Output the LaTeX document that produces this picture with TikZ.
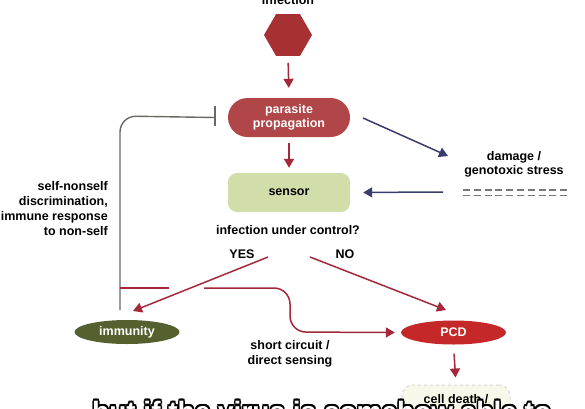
\documentclass[tikz,border=0pt]{standalone}
\usepackage{fontspec}
\setmainfont{Liberation Sans}
\usetikzlibrary{arrows.meta,shapes.geometric}
\definecolor{hexred}{RGB}{166,48,50}
\definecolor{pillred}{RGB}{176,70,72}
\definecolor{arrred}{RGB}{164,40,58}
\definecolor{pcdred}{RGB}{196,40,40}
\definecolor{immgreen}{RGB}{84,96,46}
\definecolor{sensgreen}{RGB}{210,222,170}
\definecolor{navy}{RGB}{58,60,108}
\definecolor{inhgray}{RGB}{105,105,100}
\definecolor{dashgray}{RGB}{120,120,120}
\definecolor{cdfill}{RGB}{248,248,234}
\definecolor{cdborder}{RGB}{215,215,205}
\begin{document}
\begin{tikzpicture}[x=1pt,y=-1pt,
  font=\fontsize{12.5}{15.5}\selectfont\bfseries,
  hexshape/.style={regular polygon, regular polygon sides=6, minimum size=48pt, inner sep=0pt, fill=hexred, draw=none},
  pill/.style={rectangle, rounded corners=19.5pt, minimum width=122pt, minimum height=39pt, fill=pillred, text=white, align=center, inner sep=0pt},
  sensbox/.style={rectangle, rounded corners=9pt, minimum width=122pt, minimum height=39pt, fill=sensgreen, inner sep=0pt},
  ell/.style={ellipse, minimum width=105pt, minimum height=24pt, inner sep=0pt, text=white},
  lbl/.style={align=center, inner sep=0pt},
  redarr/.style={draw=arrred, line width=1.5pt, -{Triangle[length=9pt,width=10pt]}},
  navyarr/.style={draw=navy, line width=1.5pt, -{Triangle[length=9pt,width=10pt]}},
  inh/.style={draw=inhgray, line width=1.4pt},
  dashline/.style={draw=dashgray, line width=1.3pt, dash pattern=on 7pt off 3.8pt},
]
\useasboundingbox (0,0) rectangle (585,408);
\fill[white] (0,0) rectangle (585,408);

% nodes
\node[anchor=base, inner sep=0pt] (inf) at (288,4.5) {infection};
\node[hexshape] (hex) at (288,35) {};
\node[pill] (pp) at (289,117.5) {parasite\\[-1pt]propagation};
\node[sensbox] (sensor) at (289,192.5) {sensor};
\node[lbl] (q) at (288,230) {infection under control?};
\node[lbl] (yes) at (242,254) {YES};
\node[lbl] (no) at (345,254) {NO};
\node[lbl, align=right, anchor=east] (selfns) at (108,208.5) {self-nonself\\[-0.5pt]discrimination,\\[-0.5pt]immune response\\[-0.5pt]to non-self};
\node[lbl] (damage) at (514,164.5) {damage /\\[-1.5pt]genotoxic stress};
\node[ell, fill=immgreen] (imm) at (127,332) {immunity};
\node[ell, fill=pcdred] (pcd) at (453.5,332.5) {PCD};
\node[lbl] (sc) at (290,353.5) {short circuit /\\[-0.5pt]direct sensing};
\node[rectangle, rounded corners=11pt, minimum width=108pt, minimum height=44pt, fill=cdfill, draw=cdborder, dashed, line width=1pt] (cd) at (456,407) {};
\node[lbl, anchor=base] (cdt) at (456,403.5) {cell death /};

% helper coordinates for free ends
\coordinate (ppE) at (363,118);
\coordinate (dmgTip) at (448,156);
\coordinate (sensStart) at (443,192);
\coordinate (yesS) at (268,257);
\coordinate (yesE) at (133,311);
\coordinate (noS) at (310,257);
\coordinate (noE) at (446,310);
\coordinate (inhS) at (120,310);
\coordinate (inhC) at (120,116);
\coordinate (rL) at (120,288);
\coordinate (rLg) at (169,288);
\coordinate (rRg) at (204,288);
\coordinate (rC1) at (290,288);
\coordinate (rC2) at (290,332);

% dashed double line
\draw[dashline] (463,190) -- (570,190);
\draw[dashline] (463,195.5) -- (570,195.5);

% connectors
\draw[redarr, shorten <=7pt, shorten >=10pt] (hex.south) -- (pp.north);
\draw[redarr, shorten <=6pt, shorten >=5pt] (pp.south) -- (sensor.north);
\draw[redarr, shorten <=9pt, shorten >=7pt] (pcd.south) -- (cd.north);
\draw[navyarr] (ppE) -- (dmgTip);
\draw[navyarr, shorten >=13pt] (sensStart) -- (sensor.east);
\draw[redarr] (yesS) -- (yesE);
\draw[redarr] (noS) -- (noE);
\draw[inh, rounded corners=16pt] (inhS) -- (inhC) -- ([xshift=-13pt]pp.west);
\draw[inhgray, line width=1.4pt] (215,106) -- (215,126);
\draw[draw=arrred, line width=1.5pt] (rL) -- (rLg);
\draw[redarr, rounded corners=16pt] (rRg) -- (rC1) -- (rC2) -- ([xshift=-6pt]pcd.west);

% caption overlay
\begin{scope}[every node/.style={anchor=base west, inner sep=0pt, font=\fontsize{28}{32}\selectfont\bfseries}]
\foreach \dx/\dy in {-1.6/0,1.6/0,0/-1.6,0/1.6,-1.2/-1.2,1.2/-1.2,-1.2/1.2,1.2/1.2}
  \node[text=black] at (92+\dx,421+\dy) {but if the virus is somehow able to};
\node[text=white] (cap) at (92,421) {but if the virus is somehow able to};
\end{scope}
\end{tikzpicture}
\end{document}
